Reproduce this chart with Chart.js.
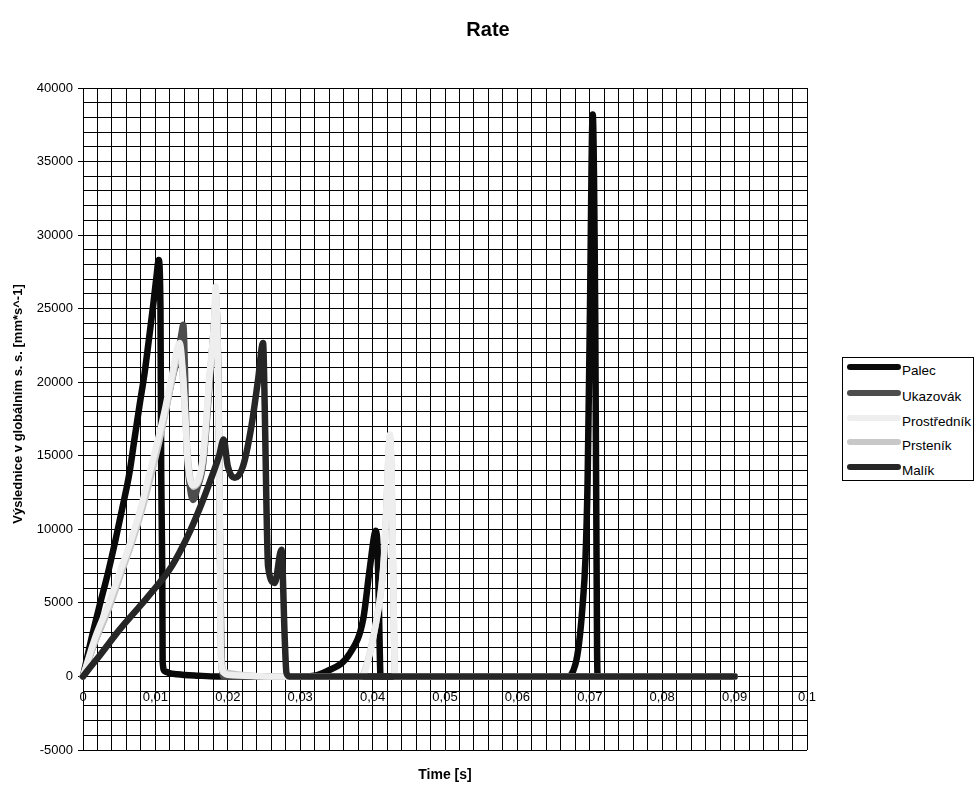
<!DOCTYPE html>
<html>
<head>
<meta charset="utf-8">
<script src="https://cdn.jsdelivr.net/npm/chart.js@4.4.1/dist/chart.umd.min.js"></script>
<style>
  body { margin: 0; background: #fff; }
  #wrap { position: relative; width: 976px; height: 787px; }
  #legend {
    position: absolute; left: 842px; top: 357px; width: 132px; height: 124px;
    border: 1px solid #000; box-sizing: border-box; background: #fff;
    font: 13.5px "Liberation Sans", Arial, sans-serif; color: #000;
  }
  .row { position: absolute; left: 0; height: 20px; width: 132px; }
  .row .sw { position: absolute; left: 4px; width: 54px; height: 6px; border-radius: 3px; }
  .row .tx { position: absolute; left: 59px; white-space: nowrap; }
</style>
</head>
<body>
<div id="wrap">
  <canvas id="c" width="976" height="787"></canvas>
  <div id="legend"></div>
</div>
<script>
// series names + colours
const names = ["Palec", "Ukazovák", "Prostředník", "Prsteník", "Malík"];
const colors = ["#0a0a0a", "#4d4d4d", "#eeeeee", "#c8c8c8", "#262626"];

// Palec
const palecT = [0, 0.00113, 0.00228, 0.00343, 0.0045, 0.0055, 0.0064, 0.0071, 0.0078, 0.0085, 0.0091, 0.00966, 0.0102, 0.01045,
  0.0107, 0.0108, 0.01095, 0.0110, 0.0113, 0.0118, 0.013, 0.016, 0.0185,
  0.031, 0.0337, 0.0369, 0.0387, 0.0396, 0.04046, 0.0407, 0.0409, 0.0411,
  0.0670, 0.0680, 0.0685, 0.0690, 0.0694, 0.0697, 0.0700, 0.0704, 0.07075, 0.0710, 0.0711, 0.09];
const palecV = [0, 2500, 4800, 7000, 9300, 11600, 13800, 16100, 18400, 20600, 22900, 25100, 27400, 28300,
  25000, 14000, 7000, 1000, 350, 250, 150, 50, 0,
  0, 360, 1600, 3900, 7300, 9900, 8500, 4000, 0,
  0, 800, 2200, 4800, 8000, 13400, 24000, 38200, 24500, 2000, 0, 0];

// Ukazovák
const ukazT = [0, 0.0016, 0.0035, 0.0051, 0.0067, 0.0081, 0.0093, 0.0105, 0.0115, 0.0125, 0.0130, 0.0136, 0.01385,
  0.0141, 0.0143, 0.0147, 0.0152, 0.0158, 0.0166, 0.0175, 0.0181, 0.01835, 0.0187, 0.0189, 0.0191, 0.0194, 0.09];
const ukazV = [0, 2300, 4600, 6900, 9200, 11500, 13800, 16000, 18300, 20600, 21500, 23300, 23900,
  20500, 16000, 13200, 12000, 12800, 14500, 20000, 24000, 25500, 20000, 10000, 2000, 0, 0];

// Prostředník
const prostT = [0, 0.00159, 0.00343, 0.00505, 0.00666, 0.00805, 0.0092, 0.01035, 0.01141, 0.01234, 0.01335,
  0.0138, 0.01418, 0.0144, 0.0152, 0.01657, 0.0175, 0.0181, 0.01833, 0.01865, 0.01888, 0.0190, 0.01925, 0.020, 0.028,
  0.0385, 0.0390, 0.04055, 0.04124, 0.0416, 0.04194, 0.0422, 0.0424, 0.0427, 0.0429, 0.0431, 0.09];
const prostV = [0, 2510, 4780, 7040, 9300, 11570, 13830, 16100, 18360, 20620, 22670,
  20620, 17230, 14960, 13000, 14960, 20620, 24030, 26500, 20620, 11570, 2510, 475, 120, 0,
  0, 400, 3870, 6130, 8400, 11800, 15200, 16440, 12000, 5000, 0, 0];

// Prsteník
const prstT = [0, 0.0017, 0.0036, 0.0052, 0.0068, 0.0082, 0.0094, 0.0105, 0.0115, 0.0124, 0.0133,
  0.0138, 0.0142, 0.0145, 0.0152, 0.0166, 0.0175, 0.0181, 0.01835, 0.0187, 0.0189, 0.0190, 0.0193, 0.028,
  0.0384, 0.0390, 0.0405, 0.0412, 0.0416, 0.0419, 0.0422, 0.0424, 0.0427, 0.0429, 0.0431, 0.09];
const prstV = [0, 2400, 4650, 6900, 9150, 11400, 13650, 15900, 18150, 20400, 22300,
  20300, 17000, 14800, 12900, 14800, 20400, 23800, 26000, 20000, 11000, 2500, 300, 0,
  0, 500, 3700, 6000, 8200, 11500, 15000, 16200, 11500, 4500, 0, 0];

// Malík
const malikT = [0, 0.0010, 0.0025, 0.0050, 0.0078, 0.0106, 0.0120, 0.0134, 0.0148, 0.0161, 0.0175, 0.0188, 0.01943,
  0.0200, 0.02095, 0.0221, 0.02326, 0.02418, 0.02487, 0.0251, 0.02534, 0.02556, 0.02649, 0.02741, 0.02787, 0.0281, 0.0285, 0.09];
const malikV = [0, 620, 1550, 3150, 4750, 6380, 7300, 8500, 9900, 11400, 13200, 15000, 16100,
  14290, 13500, 14290, 17000, 20170, 22670, 18360, 11570, 7490, 6360, 8620, 2510, 250, 0, 0];

const seriesT = [palecT, ukazT, prostT, prstT, malikT];
const seriesV = [palecV, ukazV, prostV, prstV, malikV];
// drawing order: Palec bottom, Malík on top, Prsteník below Prostředník
const drawOrder = [5, 4, 2, 3, 1];

Chart.defaults.font.family = '"Liberation Sans", Arial, sans-serif';
Chart.defaults.color = "#000";

const datasets = names.map((name, i) => ({
  label: name,
  data: seriesT[i].map((t, j) => ({ x: t, y: seriesV[i][j] })),
  borderColor: colors[i],
  borderWidth: 6.5,
  borderCapStyle: "round",
  borderJoinStyle: "round",
  pointRadius: 0,
  cubicInterpolationMode: "monotone",
  order: drawOrder[i],
  clip: 8
}));

const yTitle = {
  id: "yTitle",
  afterDraw(chart) {
    const ctx = chart.ctx;
    ctx.save();
    ctx.translate(18, 404);
    ctx.rotate(-Math.PI / 2);
    ctx.font = 'bold 13px "Liberation Sans", Arial, sans-serif';
    ctx.fillStyle = "#000";
    ctx.textAlign = "center";
    ctx.textBaseline = "middle";
    ctx.fillText("Výslednice v globálním s. s. [mm*s^-1]", 0, 0);
    ctx.restore();
  }
};

new Chart(document.getElementById("c"), {
  type: "line",
  data: { datasets },
  options: {
    responsive: false,
    animation: false,
    devicePixelRatio: 1,
    layout: { padding: 0 },
    plugins: {
      legend: { display: false },
      tooltip: { enabled: false },
      title: {
        display: true,
        text: "Rate",
        font: { size: 20, weight: "bold" },
        padding: { top: 18, bottom: 46 }
      },
      subtitle: {
        display: true,
        position: "bottom",
        fullSize: false,
        text: "Time [s]",
        font: { size: 14, weight: "bold" },
        padding: { top: 16.6, bottom: 3.6 }
      }
    },
    scales: {
      x: {
        type: "linear",
        position: { y: 0 },
        min: 0,
        max: 0.1,
        afterFit: s => { s.height = 0; },
        border: { display: false },
        grid: { color: "#000", lineWidth: 1, drawTicks: false },
        ticks: {
          stepSize: 0.002,
          autoSkip: false,
          maxRotation: 0,
          minRotation: 0,
          padding: 13,
          font: { size: 13 },
          callback: v => {
            const c = v * 100;
            if (Math.abs(c - Math.round(c)) > 1e-6) return "";
            return String(Number(v.toFixed(2))).replace(".", ",");
          }
        }
      },
      y: {
        min: -5000,
        max: 40000,
        afterFit: s => { s.width = 83; },
        border: { display: true, color: "#000" },
        grid: {
          color: "#000",
          lineWidth: 1,
          tickLength: 5,
          tickColor: ctx => (ctx.tick && ctx.tick.value % 5000 === 0 ? "#000" : "rgba(0,0,0,0)")
        },
        ticks: {
          stepSize: 1000,
          autoSkip: false,
          padding: 5,
          font: { size: 13 },
          callback: v => (v % 5000 === 0 ? String(v) : "")
        }
      },
      // empty right-hand space where the legend sits
      yR: {
        type: "linear",
        position: "right",
        afterFit: s => { s.width = 169; },
        grid: { display: false },
        border: { display: false },
        ticks: { display: false }
      }
    }
  },
  plugins: [yTitle]
});

// legend box
const legend = document.getElementById("legend");
const rowY = [8.7, 34.7, 59.7, 83.7, 109];
names.forEach((name, i) => {
  const row = document.createElement("div");
  row.className = "row";
  row.style.top = (rowY[i] - 6) + "px";
  row.innerHTML = `<span class="sw" style="top:3px;background:${colors[i]}"></span><span class="tx" style="top:2px">${name}</span>`;
  legend.appendChild(row);
});
</script>
</body>
</html>
